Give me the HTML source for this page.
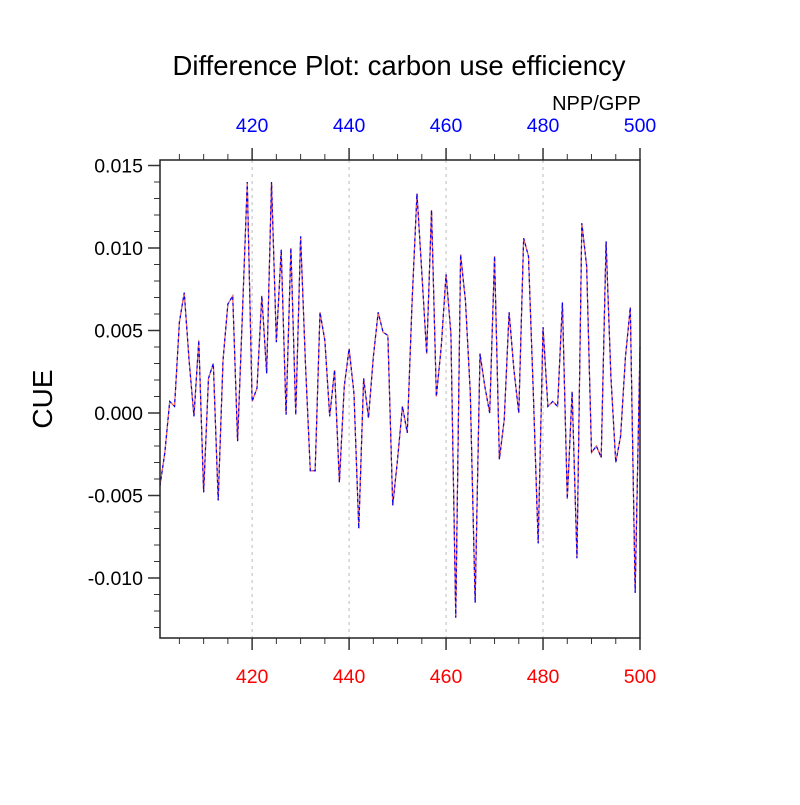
<!DOCTYPE html>
<html><head><meta charset="utf-8"><style>
body{margin:0;background:#fff}
svg text{font-family:"Liberation Sans",sans-serif}
</style></head><body>
<svg id="chart" width="800" height="800" xmlns="http://www.w3.org/2000/svg">
<text x="399" y="75" font-size="27.5" text-anchor="middle">Difference Plot: carbon use efficiency</text>
<text x="641" y="110" font-size="20" text-anchor="end">NPP/GPP</text>
<text transform="translate(52,399) rotate(-90)" font-size="28" text-anchor="middle">CUE</text>
<g id="grid"></g>
<g id="axes"></g>
<g id="series"></g>
<rect x="160" y="160" width="480" height="478" fill="none" stroke="#222" stroke-width="1.5"/>
</svg>
<script>
const years = [];
for (let y = 401; y <= 500; y++) years.push(y);
const cueDiff = [
-0.0044,-0.0024,0.0007,0.0004,0.0055,0.0073,0.0032,-0.0002,0.0044,-0.0048,
0.0021,0.0030,-0.0053,0.0032,0.0066,0.0071,-0.0017,0.0060,0.0140,0.0007,
0.0015,0.0071,0.0024,0.0140,0.0043,0.0099,-0.0001,0.0100,-0.0001,0.0107,
0.0030,-0.0035,-0.0035,0.0061,0.0044,-0.0002,0.0026,-0.0042,0.0016,0.0039,
0.0012,-0.0070,0.0021,-0.0003,0.0034,0.0061,0.0049,0.0047,-0.0056,-0.0028,
0.0004,-0.0012,0.0068,0.0133,0.0085,0.0036,0.0123,0.0010,0.0040,0.0084,
0.0048,-0.0124,0.0096,0.0068,0.0012,-0.0115,0.0036,0.0016,0.0000,0.0095,
-0.0028,-0.0004,0.0061,0.0026,0.0000,0.0106,0.0095,0.0012,-0.0079,0.0052,
0.0004,0.0007,0.0004,0.0067,-0.0052,0.0013,-0.0088,0.0115,0.0089,-0.0024,
-0.0020,-0.0027,0.0104,0.0022,-0.0030,-0.0014,0.0034,0.0064,-0.0109,0.0040];
const xTicks = [420,440,460,480,500];
const yTicks = [0.015,0.010,0.005,0.000,-0.005,-0.010];
const yTickLabels = ["0.015","0.010","0.005","0.000","-0.005","-0.010"];

const NS = "http://www.w3.org/2000/svg";
const X = v => 160 + (v - 401) * 480 / 99;
const Y = v => 413 - v * 16500;
function mk(tag, attrs, parent) {
  const e = document.createElementNS(NS, tag);
  for (const k in attrs) e.setAttribute(k, attrs[k]);
  parent.appendChild(e); return e;
}
const grid = document.getElementById('grid');
const axes = document.getElementById('axes');
const series = document.getElementById('series');

xTicks.forEach(t => {
  if (t < 500) {
    const g = mk('line', {x1: X(t), x2: X(t), y1: 160, y2: 638, stroke: '#bbb', 'stroke-dasharray': '3,4', 'stroke-width': 1}, grid);
    
    
  }
  const lb = mk('text', {x: X(t), y: 683, 'font-size': 19.5, 'text-anchor': 'middle', fill: 'red'}, axes);
  lb.textContent = t;
  
  
  const lt = mk('text', {x: X(t), y: 132, 'font-size': 19.5, 'text-anchor': 'middle', fill: 'blue'}, axes);
  lt.textContent = t;
  
  
});
for (let t = 405; t <= 500; t += 5) {
  const major = t % 20 === 0;
  const len = major ? 12 : 6;
  const b = mk('line', {x1: X(t), x2: X(t), y1: 638, y2: 638 + len, stroke: '#333', 'stroke-width': major ? 1.5 : 1}, axes);
  
  
  const tp = mk('line', {x1: X(t), x2: X(t), y1: 160, y2: 160 - len, stroke: '#333', 'stroke-width': major ? 1.5 : 1}, axes);
  
  
}
yTicks.forEach((t, i) => {
  const l = mk('line', {x1: 148, x2: 160, y1: Y(t), y2: Y(t), stroke: '#333', 'stroke-width': 1.5}, axes);
  
  
  const tx = mk('text', {x: 143, y: Y(t) + 7, 'font-size': 19.5, 'text-anchor': 'end'}, axes);
  tx.textContent = yTickLabels[i];
  
  
});
for (let k = -13; k <= 15; k++) {
  if (k % 5 === 0) continue;
  const l = mk('line', {x1: 154, x2: 160, y1: Y(k / 1000), y2: Y(k / 1000), stroke: '#333', 'stroke-width': 1}, axes);
  
  
}
const pts = years.map((y, i) => X(y).toFixed(2) + ',' + Y(cueDiff[i]).toFixed(2)).join(' ');
const s1 = mk('polyline', {points: pts, fill: 'none', stroke: '#000', 'stroke-width': 1}, series);


const s2 = mk('polyline', {points: pts, fill: 'none', stroke: '#f66', 'stroke-width': 1.2}, series);


const s3 = mk('polyline', {points: pts, fill: 'none', stroke: '#00f', 'stroke-width': 1.2, 'stroke-dasharray': '3,3'}, series);


</script>
</body></html>
